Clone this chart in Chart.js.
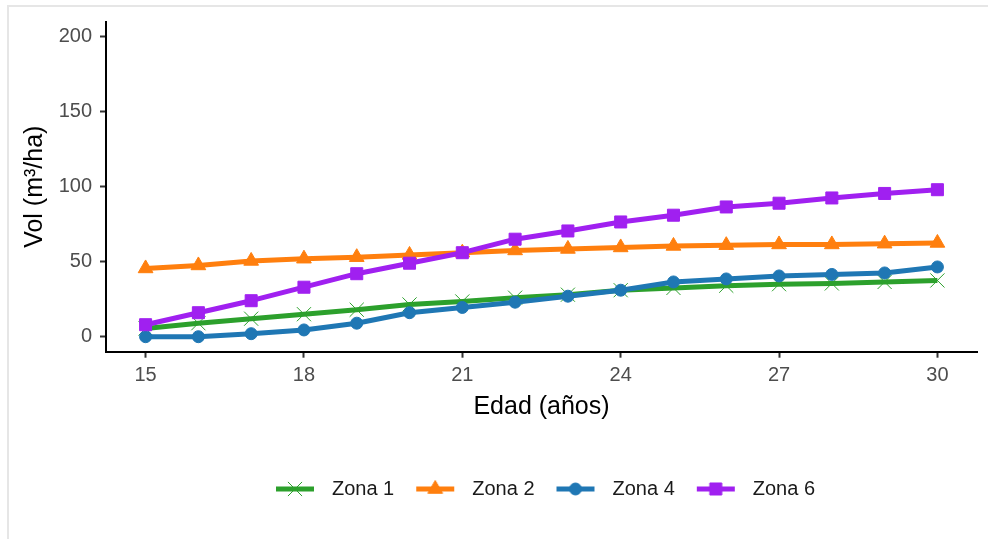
<!DOCTYPE html>
<html>
<head>
<meta charset="utf-8">
<script src="https://cdn.jsdelivr.net/npm/chart.js@4.4.1/dist/chart.umd.min.js"></script>
<style>
  html, body { margin: 0; padding: 0; background: #ffffff; overflow: hidden; width: 988px; height: 539px; }
  #frame { position: absolute; left: 7px; top: 5px; width: 990px; height: 540px; border-left: 2px solid #e6e6e6; border-top: 2px solid #e6e6e6; }
  #c { position: absolute; left: 0; top: 0; }
</style>
</head>
<body>
<div id="frame"></div>
<canvas id="c" width="988" height="539"></canvas>
<script>
// ---- data ----
const ages = [15, 16, 17, 18, 19, 20, 21, 22, 23, 24, 25, 26, 27, 28, 29, 30];
const xTicks = [15, 18, 21, 24, 27, 30];
const yTicks = [0, 50, 100, 150, 200];
const seriesNames = ['Zona 1', 'Zona 2', 'Zona 4', 'Zona 6'];
const zona1 = [5.5, 9, 12, 15, 18, 21.5, 23.5, 26, 28, 31, 32.5, 34, 35, 35.5, 36.5, 37.5];
const zona2 = [45.5, 47.5, 50.5, 52, 53, 54.5, 56, 57.5, 58.5, 59.5, 60.5, 61, 61.5, 61.5, 62, 62.5];
const zona4 = [0, 0, 2, 4.5, 9, 16, 19.5, 23, 27, 31, 36.5, 38.5, 40.5, 41.5, 42.5, 46.5];
const zona6 = [8, 16, 24, 33, 42, 49, 56, 65, 70.5, 76.5, 81, 86.5, 89, 92.5, 95.5, 98];
const xLabel = 'Edad (años)';
const yLabel = 'Vol (m³/ha)';

// ---- styles ----
const colors = ['#2ca02c', '#ff7f0e', '#1f77b4', '#a020f0'];
const shapes = ['crossRot', 'triangle', 'circle', 'rect'];
const radii = [10, 8.5, 6, 8.5];
const values = [zona1, zona2, zona4, zona6];
const FONT = "'Liberation Sans', Arial, sans-serif";

function legendSymbol(i) {
  const cv = document.createElement('canvas');
  cv.width = 40; cv.height = 22;
  const ctx = cv.getContext('2d');
  ctx.strokeStyle = colors[i];
  ctx.lineWidth = 5;
  ctx.lineCap = 'butt';
  ctx.beginPath();
  ctx.moveTo(1, 11); ctx.lineTo(39, 11);
  ctx.stroke();
  ctx.fillStyle = colors[i];
  ctx.strokeStyle = colors[i];
  ctx.lineWidth = 1;
  Chart.helpers.drawPoint(ctx, {pointStyle: shapes[i], radius: radii[i], rotation: 0, borderWidth: 1}, 20, 11);
  return cv;
}

const datasets = seriesNames.map((name, i) => ({
  label: name,
  data: ages.map((a, k) => ({x: a, y: values[i][k]})),
  borderColor: colors[i],
  backgroundColor: colors[i],
  borderWidth: 5,
  borderJoinStyle: 'round',
  borderCapStyle: 'butt',
  tension: 0,
  pointStyle: shapes[i],
  pointRadius: radii[i],
  pointBorderWidth: 1,
  pointBackgroundColor: colors[i],
  pointBorderColor: colors[i],
  order: seriesNames.length - 1 - i,
  fill: false
}));

new Chart(document.getElementById('c'), {
  type: 'line',
  data: { datasets },
  options: {
    responsive: false,
    animation: false,
    events: [],
    layout: { padding: { top: 21.7, right: 9.4, bottom: 30, left: 0 } },
    plugins: {
      tooltip: { enabled: false },
      legend: {
        position: 'bottom',
        fullSize: false,
        labels: {
          usePointStyle: true,
          pointStyleWidth: 54,
          padding: 14,
          color: '#1a1a1a',
          font: { family: FONT, size: 20 },
          generateLabels: (chart) => seriesNames.map((name, i) => ({
            text: name,
            pointStyle: legendSymbol(i),
            fillStyle: 'rgba(0,0,0,0)',
            strokeStyle: 'rgba(0,0,0,0)',
            lineWidth: 0,
            fontColor: '#1a1a1a',
            hidden: false,
            datasetIndex: i
          }))
        }
      }
    },
    scales: {
      x: {
        type: 'linear',
        min: 14.25,
        max: 30.75,
        afterBuildTicks: (s) => { s.ticks = xTicks.map(v => ({value: v})); },
        afterFit: (s) => { s.height = 113.3; },
        grid: { display: true, drawOnChartArea: false, drawTicks: true, tickLength: 6, tickWidth: 2, tickColor: '#333333' },
        border: { display: true, color: '#000000', width: 2 },
        ticks: { padding: 6, color: '#4d4d4d', font: { family: FONT, size: 20 }, maxRotation: 0 },
        title: { display: true, text: xLabel, color: '#000000', font: { family: FONT, size: 25 }, padding: { top: 0, bottom: 43 } }
      },
      y: {
        type: 'linear',
        min: -10,
        max: 210,
        afterBuildTicks: (s) => { s.ticks = yTicks.map(v => ({value: v})); },
        afterFit: (s) => { s.width = 106; },
        grid: { display: true, drawOnChartArea: false, drawTicks: true, tickLength: 6, tickWidth: 2, tickColor: '#333333' },
        border: { display: true, color: '#000000', width: 2 },
        ticks: { padding: 8, color: '#4d4d4d', font: { family: FONT, size: 20 } },
        title: { display: true, text: yLabel, color: '#000000', font: { family: FONT, size: 25 }, padding: { top: 20, bottom: 0 } }
      }
    }
  }
});
</script>
</body>
</html>
